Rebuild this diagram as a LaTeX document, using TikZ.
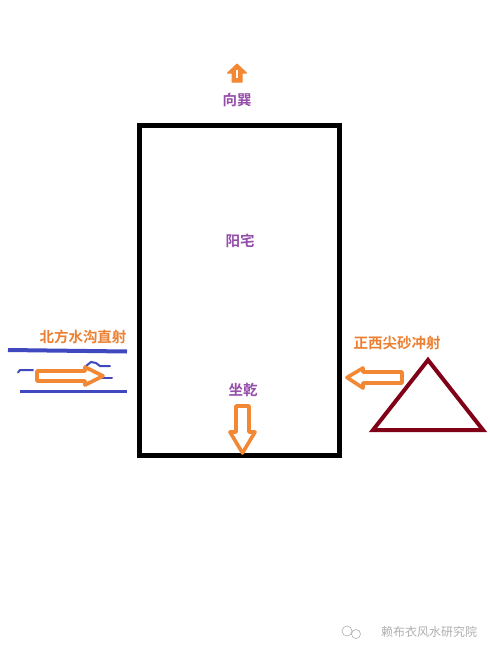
\documentclass[tikz,border=0pt]{standalone}
\usepackage{fontspec}
\newfontfamily\cjk{Noto Sans CJK SC}[BoldFont={Noto Sans CJK SC Bold}]
\definecolor{arrorange}{RGB}{242,135,52}
\definecolor{txtorange}{RGB}{236,128,50}
\definecolor{txtpurple}{RGB}{150,78,170}
\definecolor{ditchblue}{RGB}{63,72,190}
\definecolor{sandred}{RGB}{128,0,24}
\definecolor{markgray}{RGB}{175,175,175}

\tikzset{
	lbl/.style={inner sep=0pt, font=\cjk\bfseries\fontsize{14.5}{16}\selectfont},
	dirlbl/.style={lbl, text=txtpurple},
	warnlbl/.style={lbl, text=txtorange},
	hollowarrow/.style={draw=arrorange, line width=3.6pt, fill=white, line join=round},
	ditch/.style={draw=ditchblue, line width=2pt, line cap=round}
}

\begin{document}
\begin{tikzpicture}[x=1pt, y=-1pt]
	\useasboundingbox[fill=white] (0,0) rectangle (490,654);

	%% house
	\draw[line width=5pt] (139.5,125.5) rectangle (339.5,455);
	\node[dirlbl] (house) at (240,241) {阳宅};

	%% facing direction
	\fill[arrorange, draw=arrorange, line width=1pt, line join=round]
		(237,64) -- (246.5,73) -- (242,73) -- (242,82) -- (232,82) -- (232,73) -- (227.5,73) -- cycle;
	\draw[white, line width=1.5pt] (237,70) -- (237,78);
	\node[dirlbl] (facing) at (237,100) {向巽};

	%% sitting direction
	\node[dirlbl] (sitting) at (243,390) {坐乾};
	\draw[hollowarrow] (236,406) -- (249,406) -- (249,432) -- (255,432) -- (242.5,453)
		-- (230,432) -- (236,432) -- cycle;

	%% water ditch to the north
	\node[warnlbl] (ditchlbl) at (83,337) {北方水沟直射};
	\draw[ditchblue, line width=4pt] (8,350) -- (127,351.5);
	\draw[ditchblue, line width=3pt] (20,391) -- (127,391);
	\draw[ditch] (18,372.5) -- (20,370) -- (33,370);
	\draw[ditch] (47,372) -- (67,372);
	\draw[ditch] (86,366) -- (91,362) -- (96,363) -- (100,366) -- (110,366);
	\draw[ditch] (100,378) -- (112,378);
	\draw[hollowarrow] (37,371) -- (85,371) -- (85,367) -- (103,376) -- (85,385)
		-- (85,381) -- (37,381) -- cycle;

	%% sharp sand to the west
	\node[warnlbl] (sandlbl) at (397,343) {正西尖砂冲射};
	\draw[hollowarrow] (402,372) -- (363,372) -- (363,368) -- (347,377.5) -- (363,388)
		-- (363,383) -- (402,383) -- cycle;
	\draw[sandred, line width=4pt, line join=miter] (428,360) -- (483,430) -- (373,430) -- cycle;

	%% watermark
	\draw[markgray, line width=0.6pt] (347,631) circle (5);
	\draw[markgray, line width=0.6pt] (356,634) circle (4.5);
	\node[inner sep=0pt, text=markgray, font=\cjk\fontsize{12}{14}\selectfont] (mark) at (429,632) {赖布衣风水研究院};
\end{tikzpicture}
\end{document}
